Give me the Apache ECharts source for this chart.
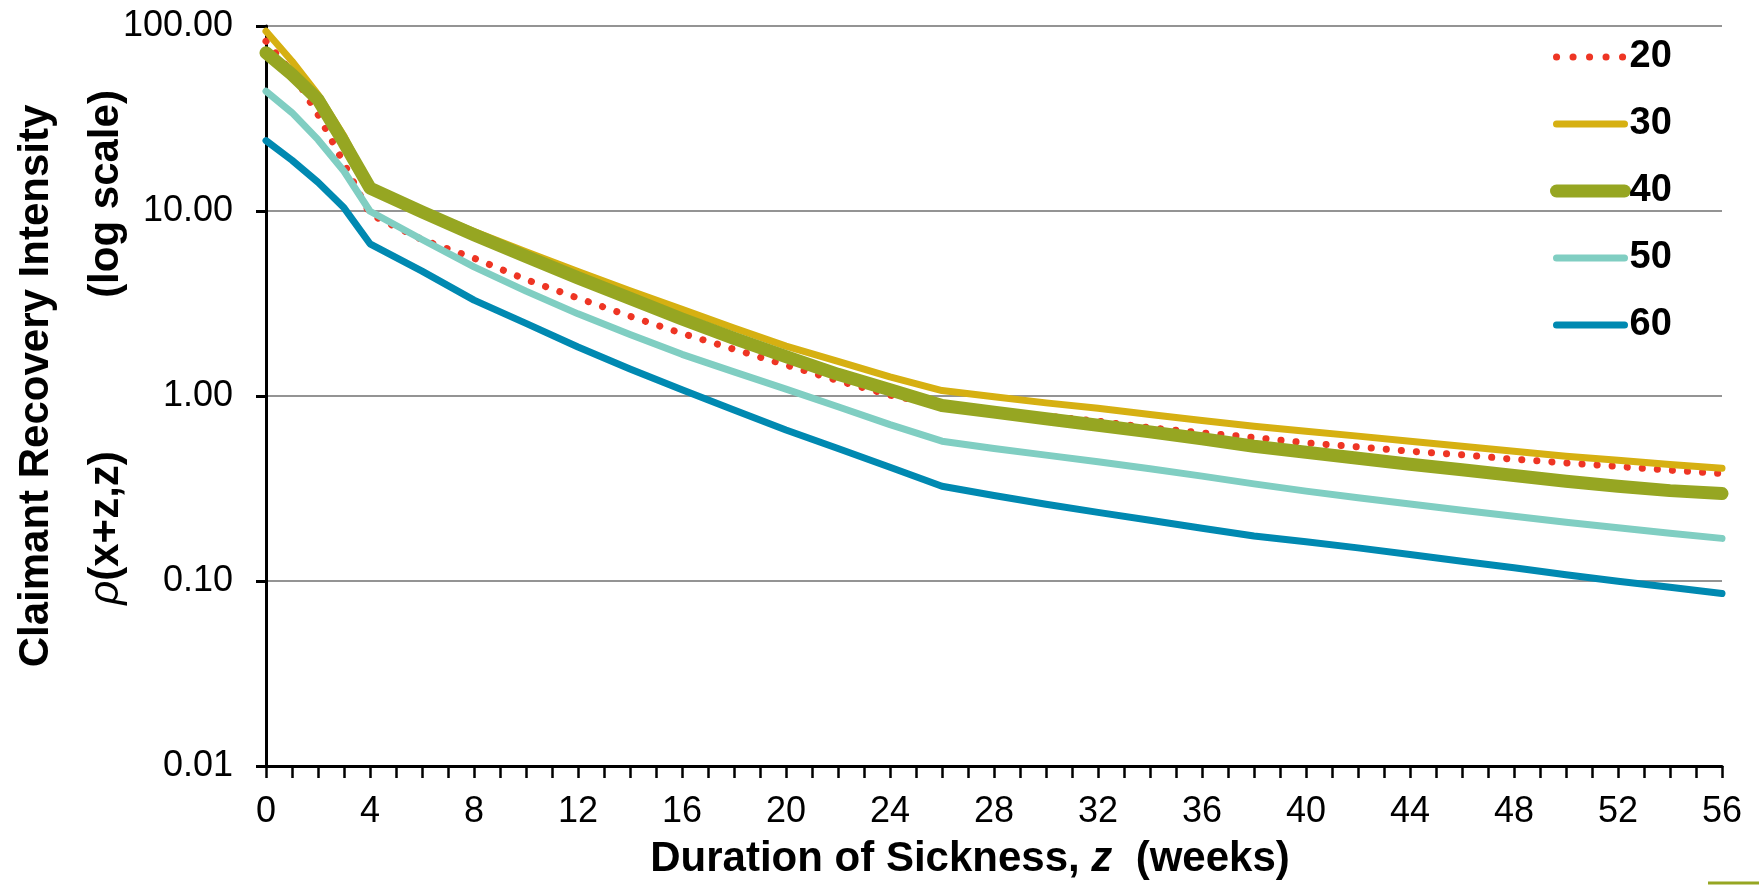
<!DOCTYPE html>
<html>
<head>
<meta charset="utf-8">
<title>Claimant Recovery Intensity</title>
<script src="https://cdn.jsdelivr.net/npm/echarts@6/dist/echarts.min.js"></script>
<style>
html, body { margin: 0; padding: 0; background: #fff; }
#main { width: 1759px; height: 885px; }
</style>
</head>
<body>
<div id="main"></div>
<script>
// duration of sickness z (weeks)
var weeks = [0, 1, 2, 3, 4, 6, 8, 10, 12, 14, 16, 18, 20, 22, 24, 26, 28, 30, 32, 34, 36, 38, 40, 42, 44, 46, 48, 50, 52, 54, 56];
// recovery intensity by age at onset x
var age20 = [82.7, 56, 33.2, 18.1, 9.6, 7.01, 5.56, 4.26, 3.38, 2.70, 2.18, 1.79, 1.47, 1.21, 1.01, 0.889, 0.828, 0.778, 0.731, 0.673, 0.632, 0.597, 0.558, 0.531, 0.503, 0.481, 0.455, 0.435, 0.416, 0.397, 0.381];
var age30 = [93.7, 64.5, 42.6, 25.4, 13.6, 10.1, 7.75, 6.02, 4.71, 3.70, 2.94, 2.33, 1.86, 1.54, 1.27, 1.07, 0.99, 0.918, 0.859, 0.795, 0.737, 0.686, 0.645, 0.607, 0.570, 0.535, 0.503, 0.473, 0.450, 0.426, 0.407];
var age40 = [71.6, 54.7, 40.0, 23.4, 13.3, 9.9, 7.44, 5.68, 4.35, 3.37, 2.61, 2.05, 1.63, 1.31, 1.08, 0.889, 0.818, 0.753, 0.695, 0.640, 0.587, 0.535, 0.497, 0.461, 0.428, 0.399, 0.372, 0.346, 0.325, 0.308, 0.297];
var age50 = [44.4, 34.0, 24.3, 16.4, 9.97, 7.01, 4.99, 3.69, 2.78, 2.15, 1.68, 1.35, 1.09, 0.875, 0.70, 0.570, 0.520, 0.479, 0.441, 0.404, 0.369, 0.335, 0.306, 0.282, 0.261, 0.241, 0.224, 0.208, 0.194, 0.181, 0.170];
var age60 = [24.0, 18.8, 14.3, 10.4, 6.65, 4.73, 3.30, 2.47, 1.84, 1.40, 1.08, 0.84, 0.655, 0.52, 0.412, 0.325, 0.290, 0.260, 0.235, 0.213, 0.193, 0.175, 0.163, 0.151, 0.139, 0.128, 0.118, 0.108, 0.0997, 0.0925, 0.0855];
var ageNames = ['20', '30', '40', '50', '60'];
var ageColors = ['#EE3524', '#D6B012', '#96A622', '#80CEC2', '#0089B1'];
var ageWidths = [7, 7, 13, 7, 7];

var FONT = '"Liberation Sans", Arial, sans-serif';

function pairs(vals) {
	return weeks.map(function (w, i) {
		return [w, vals[i]];
	});
}

function lineSeries(idx, vals, dash) {
	return {
		name: ageNames[idx],
		type: 'line',
		data: pairs(vals),
		symbol: 'none',
		itemStyle: { color: ageColors[idx] },
		lineStyle: { color: ageColors[idx], width: ageWidths[idx], type: dash || 'solid', cap: 'round', join: 'round' },
		emphasis: { disabled: true }
	};
}

// legend entries: plain line, no symbol
var legendData = ageNames.map(function (n, i) {
	return {
		name: n,
		itemStyle: { opacity: 0 },
		lineStyle: {
			color: ageColors[i],
			width: ageWidths[i],
			type: i === 0 ? [0.1, 16.4] : 'solid',
			cap: 'round'
		}
	};
});

var chart = echarts.init(document.getElementById('main'));

var option = {
	backgroundColor: '#fff',
	animation: false,
	grid: { left: 266, right: 37, top: 26, bottom: 118 },
	legend: {
		orient: 'vertical',
		left: 1545,
		top: 33,
		itemWidth: 68,
		itemHeight: 14,
		itemGap: 29,
		textStyle: { fontSize: 38, fontWeight: 'bold', color: '#000', fontFamily: FONT },
		data: legendData
	},
	xAxis: {
		type: 'value',
		min: 0,
		max: 56,
		interval: 4,
		axisLine: { onZero: false, lineStyle: { color: '#000', width: 3 } },
		axisTick: { show: true, length: 12, lineStyle: { color: '#000', width: 2.5 } },
		minorTick: { show: true, splitNumber: 4, length: 12, lineStyle: { color: '#000', width: 2.5 } },
		splitLine: { show: false },
		axisLabel: { fontSize: 36, color: '#000', margin: 28, fontFamily: FONT },
		name: 'Duration of Sickness, {i|z}  (weeks)',
		nameLocation: 'middle',
		nameGap: 72,
		nameTextStyle: {
			fontSize: 42, fontWeight: 'bold', color: '#000', fontFamily: FONT,
			padding: [0, 48, 0, 0],
			rich: {
				i: { fontSize: 42, fontWeight: 'bold', fontStyle: 'italic', color: '#000', fontFamily: FONT }
			}
		}
	},
	yAxis: {
		type: 'log',
		logBase: 10,
		min: 0.01,
		max: 100,
		axisLine: { show: true, lineStyle: { color: '#000', width: 3 } },
		axisTick: { show: true, length: 10, lineStyle: { color: '#000', width: 3 } },
		splitLine: { show: true, lineStyle: { color: '#949494', width: 2 } },
		axisLabel: {
			fontSize: 36, color: '#000', margin: 33, fontFamily: FONT,
			formatter: function (v) { return Number(v).toFixed(2); }
		}
	},
	graphic: [
		{
			type: 'text', x: 36, y: 386, rotation: Math.PI / 2, silent: true,
			style: { text: 'Claimant Recovery Intensity', fontSize: 42, fontWeight: 'bold', fontFamily: FONT, fill: '#000', align: 'center', verticalAlign: 'middle' }
		},
		{
			type: 'text', x: 106, y: 194, rotation: Math.PI / 2, silent: true,
			style: { text: '(log scale)', fontSize: 42, fontWeight: 'bold', fontFamily: FONT, fill: '#000', align: 'center', verticalAlign: 'middle' }
		},
		{
			type: 'text', x: 106, y: 528, rotation: Math.PI / 2, silent: true,
			style: {
				text: '{r|ρ}(x+z,z)', fontSize: 42, fontWeight: 'bold', fontFamily: FONT, fill: '#000', align: 'center', verticalAlign: 'middle',
				rich: { r: { fontSize: 42, fontStyle: 'italic', fontWeight: 'normal', fontFamily: FONT, fill: '#000' } }
			}
		},
		{
			type: 'line', silent: true,
			shape: { x1: 1708, y1: 883, x2: 1759, y2: 883 },
			style: { stroke: '#96A622', lineWidth: 3 }
		}
	],
	series: [
		lineSeries(0, age20, [0.1, 15]),
		lineSeries(1, age30),
		lineSeries(2, age40),
		lineSeries(3, age50),
		lineSeries(4, age60)
	]
};

chart.setOption(option);
window.addEventListener('resize', function () {
	chart.resize();
});
</script>
</body>
</html>
